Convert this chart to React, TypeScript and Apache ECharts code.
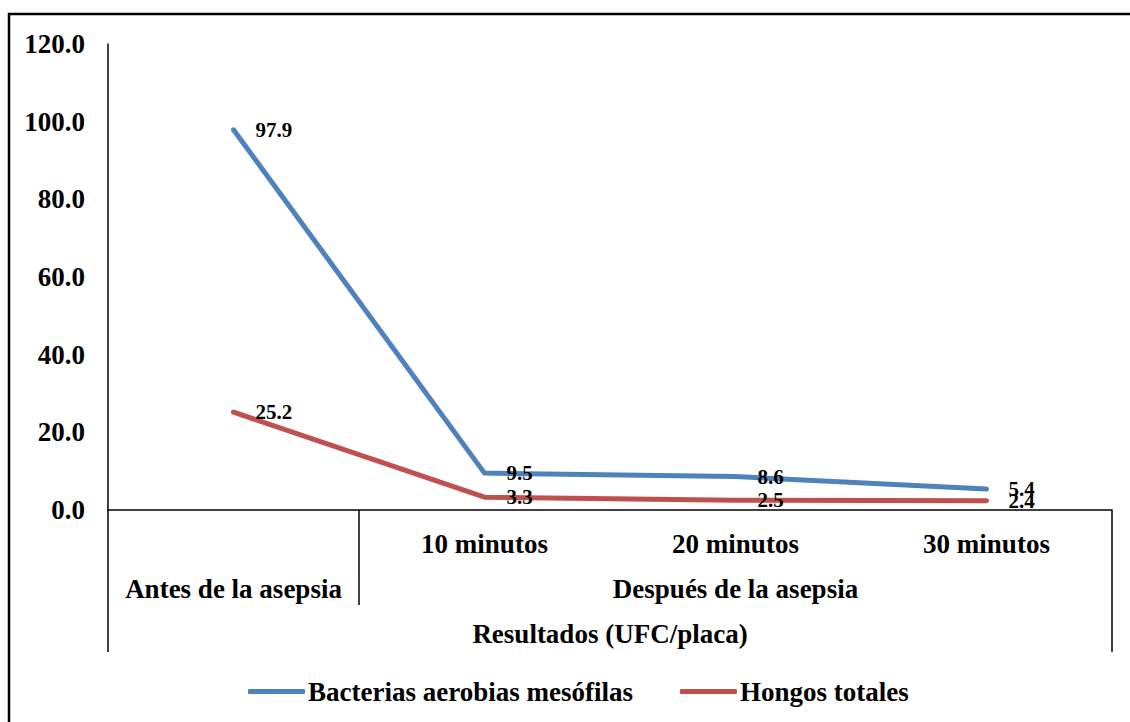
import React, { useEffect, useRef } from "react";
import * as echarts from "echarts";

const timeLabels = ["", "10 minutos", "20 minutos", "30 minutos"];
const groupLabels = ["Antes de la asepsia", "", "Después de la asepsia", ""];
const bacterias = [97.9, 9.5, 8.6, 5.4];
const hongos = [25.2, 3.3, 2.5, 2.4];
const seriesNames = ["Bacterias aerobias mesófilas", "Hongos totales"];
const axisTitle = "Resultados (UFC/placa)";

const FONT = '"Liberation Serif", "Times New Roman", serif';
const BLUE = "#4F81BD";
const RED = "#C0504D";

const GRID_LEFT = 108;
const GRID_RIGHT_X = 1112;
const GRID_TOP = 44;
const AXIS_Y = 510;
const FS = 27;

export default function App() {
  const ref = useRef<HTMLDivElement>(null);
  useEffect(() => {
    if (!ref.current) return;
    const chart = echarts.init(ref.current, null, { renderer: "svg" });
    const bandW = (GRID_RIGHT_X - GRID_LEFT) / timeLabels.length;
    const labelCommon = {
      show: true,
      position: "right",
      distance: 21,
      color: "#000",
      fontFamily: FONT,
      fontWeight: "bold",
      fontSize: 21,
    };
    chart.setOption({
      animation: false,
      backgroundColor: "#fff",
      grid: {
        left: GRID_LEFT,
        right: 1130 - GRID_RIGHT_X,
        top: GRID_TOP,
        bottom: 722 - AXIS_Y,
        containLabel: false,
      },
      xAxis: [
        {
          type: "category",
          data: timeLabels,
          position: "bottom",
          axisLine: { show: true, lineStyle: { color: "#000", width: 1.5 } },
          axisTick: { show: false },
          axisLabel: {
            interval: 0,
            margin: 20,
            color: "#000",
            fontFamily: FONT,
            fontWeight: "bold",
            fontSize: FS,
          },
          name: axisTitle,
          nameLocation: "middle",
          nameGap: 110,
          nameTextStyle: {
            color: "#000",
            fontFamily: FONT,
            fontWeight: "bold",
            fontSize: FS,
          },
          splitLine: { show: false },
        },
        {
          type: "category",
          data: groupLabels,
          position: "bottom",
          axisLine: { show: false },
          axisTick: { show: false },
          axisLabel: {
            interval: 0,
            margin: 65,
            color: "#000",
            fontFamily: FONT,
            fontWeight: "bold",
            fontSize: FS,
          },
          splitLine: { show: false },
        },
      ],
      yAxis: {
        type: "value",
        min: 0,
        max: 120,
        interval: 20,
        axisLine: { show: true, lineStyle: { color: "#000", width: 1.5 } },
        axisTick: { show: false },
        splitLine: { show: false },
        axisLabel: {
          margin: 23,
          color: "#000",
          fontFamily: FONT,
          fontWeight: "bold",
          fontSize: FS,
          formatter: (v: number) => v.toFixed(1),
        },
      },
      legend: {
        left: 248,
        top: 678,
        padding: 0,
        itemWidth: 57,
        itemHeight: 5,
        itemGap: 47,
        icon: "roundRect",
        textStyle: {
          color: "#000",
          fontFamily: FONT,
          fontWeight: "bold",
          fontSize: FS,
          padding: [0, 0, 0, -2],
        },
        data: seriesNames,
      },
      series: [
        {
          name: seriesNames[0],
          type: "line",
          data: bacterias,
          color: BLUE,
          symbol: "circle",
          symbolSize: 2,
          showSymbol: true,
          lineStyle: { color: BLUE, width: 5, cap: "round", join: "round" },
          itemStyle: { color: BLUE },
          label: { ...labelCommon, formatter: (p: any) => p.value.toFixed(1) },
          z: 3,
        },
        {
          name: seriesNames[1],
          type: "line",
          data: hongos,
          color: RED,
          symbol: "circle",
          symbolSize: 2,
          showSymbol: true,
          lineStyle: { color: RED, width: 5, cap: "round", join: "round" },
          itemStyle: { color: RED },
          label: { ...labelCommon, formatter: (p: any) => p.value.toFixed(1) },
          z: 3,
        },
      ],
      graphic: [
        {
          type: "rect",
          shape: { x: 9, y: 14, width: 1300, height: 900 },
          style: { fill: "none", stroke: "#000", lineWidth: 2.5 },
          silent: true,
        },
        {
          type: "line",
          shape: { x1: GRID_LEFT, y1: AXIS_Y, x2: GRID_LEFT, y2: 652 },
          style: { stroke: "#000", lineWidth: 1.5 },
          silent: true,
        },
        {
          type: "line",
          shape: { x1: GRID_LEFT + bandW, y1: AXIS_Y, x2: GRID_LEFT + bandW, y2: 605 },
          style: { stroke: "#000", lineWidth: 1.5 },
          silent: true,
        },
        {
          type: "line",
          shape: { x1: GRID_RIGHT_X, y1: AXIS_Y, x2: GRID_RIGHT_X, y2: 652 },
          style: { stroke: "#000", lineWidth: 1.5 },
          silent: true,
        },
      ],
    });
    return () => chart.dispose();
  }, []);
  return (
    <div
      ref={ref}
      style={{ position: "absolute", left: 0, top: 0, width: 1130, height: 722 }}
    />
  );
}
